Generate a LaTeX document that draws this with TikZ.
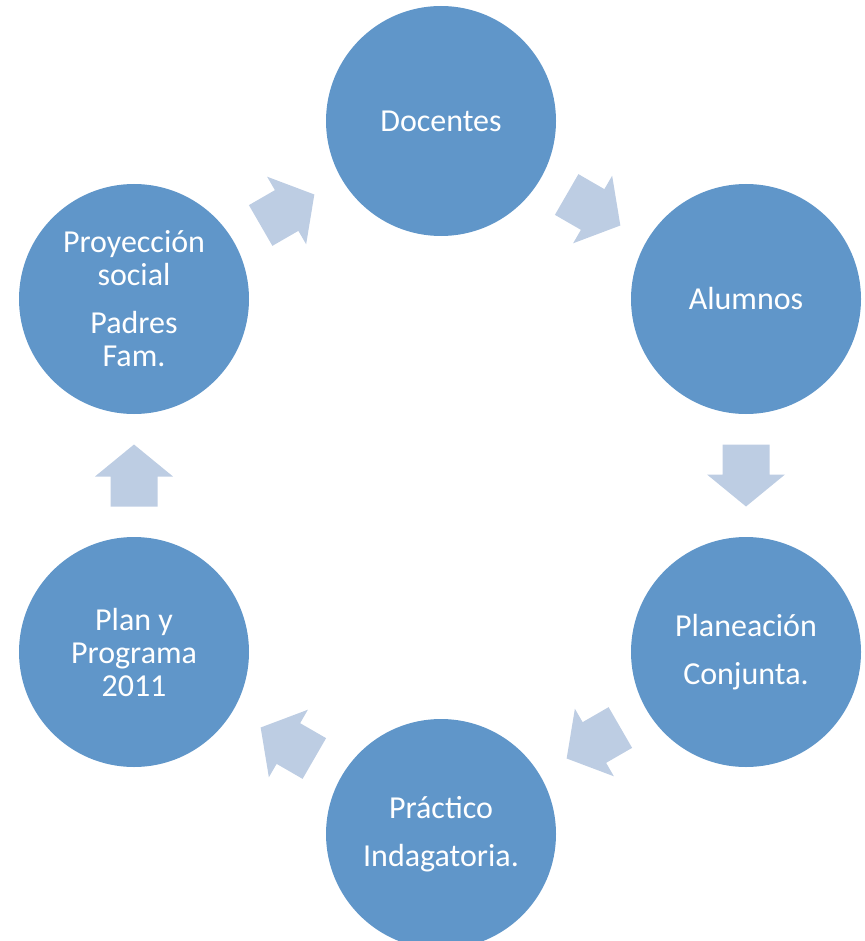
\documentclass[tikz,border=0pt]{standalone}
\usepackage{fontspec}
\setmainfont{Carlito}
\usetikzlibrary{calc}
\definecolor{circblue}{HTML}{6096C9}
\definecolor{arrblue}{HTML}{BDCDE3}
\begin{document}
\begin{tikzpicture}[x=1pt,y=-1pt,
	stage/.style={circle, fill=circblue, minimum size=230pt, inner sep=0pt, text=white, align=center, font=\fontsize{32}{33}\selectfont}]
	\useasboundingbox (0,0) rectangle (864,941);

	\node[stage] (doc) at (441,121) {Docentes};
	\node[stage] (alu) at (746,299) {Alumnos};
	\node[stage] (pla) at (746,652) {Planeación\\[15pt]Conjunta.};
	\node[stage] (pra) at (441,834) {Práctico\\[15pt]Indagatoria.};
	\node[stage] (plan) at (134,652) {Plan y\\Programa\\2011};
	\node[stage] (proy) at (134,299) {Proyección\\social\\[15pt]Padres\\Fam.};

	\foreach \a/\b/\r in {doc/alu/-30, alu/pla/-90, pla/pra/-150, pra/plan/150, plan/proy/90, proy/doc/30}
	{
		\begin{scope}[shift={($(\a)!0.5!(\b)$)}, rotate=\r]
			\fill[arrblue] (-31,-23.5) -- (-1,-23.5) -- (-1,-39) -- (31,0) -- (-1,39) -- (-1,23.5) -- (-31,23.5) -- cycle;
		\end{scope}
	}
\end{tikzpicture}
\end{document}
